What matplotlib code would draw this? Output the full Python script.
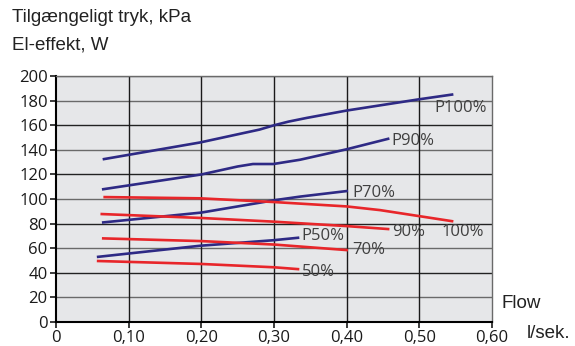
import matplotlib
matplotlib.use("Agg")
import matplotlib.pyplot as plt

# blue curves: available pressure (kPa)
p100_x = [0.066, 0.198, 0.28, 0.30, 0.32, 0.345, 0.40, 0.498, 0.545]
p100_y = [132.5, 146, 156.5, 160, 163, 166, 172, 181, 185]
p90_x = [0.065, 0.20, 0.25, 0.271, 0.299, 0.336, 0.40, 0.457]
p90_y = [108, 120, 126.5, 128.5, 128.5, 132, 140.5, 149]
p70_x = [0.065, 0.20, 0.30, 0.336, 0.40]
p70_y = [81, 89, 99, 102, 106.5]
p50_x = [0.058, 0.198, 0.299, 0.333]
p50_y = [53, 62, 66.5, 68.5]

# red curves: electric power (W)
e100_x = [0.067, 0.198, 0.299, 0.40, 0.446, 0.545]
e100_y = [101.6, 100.6, 97.6, 94, 91, 82]
e90_x = [0.063, 0.20, 0.30, 0.40, 0.457]
e90_y = [87.8, 84.6, 81.6, 78, 75.6]
e70_x = [0.065, 0.20, 0.30, 0.40]
e70_y = [68, 65.8, 63, 58.5]
e50_x = [0.058, 0.20, 0.30, 0.333]
e50_y = [49.6, 47.2, 44.5, 43]

blue_curves = [(p100_x, p100_y, "P100%", 0.52, 174),
               (p90_x, p90_y, "P90%", 0.462, 147),
               (p70_x, p70_y, "P70%", 0.408, 105),
               (p50_x, p50_y, "P50%", 0.338, 70)]
red_curves = [(e100_x, e100_y, "100%", 0.531, 73),
              (e90_x, e90_y, "90%", 0.462, 73),
              (e70_x, e70_y, "70%", 0.408, 58.5),
              (e50_x, e50_y, "50%", 0.338, 40.6)]

xticks = [0, 0.1, 0.2, 0.3, 0.4, 0.5, 0.6]
xtick_labels = ["0", "0,10", "0,20", "0,30", "0,40", "0,50", "0,60"]
yticks = list(range(0, 201, 20))

plt.rcParams['font.family'] = ['Open Sans', 'DejaVu Sans']

fig = plt.figure(figsize=(5.75, 3.46), dpi=100)
ax = fig.add_axes([0.0974, 0.0694, 0.7583, 0.7106])
ax.set_facecolor('#e6e7e9')

for y in yticks[1:]:
    c = '#222222' if y in (40, 80, 120, 160) else '#6a6a6a'
    ax.axhline(y, color=c, lw=1.0, zorder=1)
for x in xticks[1:-1]:
    ax.axvline(x, color='#1a1a1a', lw=1.0, zorder=1)

for xs, ys, lab, lx, ly in blue_curves:
    ax.plot(xs, ys, color='#2e2a85', lw=1.9, zorder=3)
    ax.text(lx, ly, lab, color='#404040', fontsize=12, va='center', ha='left', zorder=4)
for xs, ys, lab, lx, ly in red_curves:
    ax.plot(xs, ys, color='#e8262a', lw=1.9, zorder=3)
    ax.text(lx, ly, lab, color='#404040', fontsize=12, va='center', ha='left', zorder=4)

ax.set_xlim(0, 0.6)
ax.set_ylim(0, 200)
ax.set_xticks(xticks)
ax.set_xticklabels(xtick_labels)
ax.set_yticks(yticks)
ax.tick_params(axis='both', labelsize=12, colors='#1a1a1a', length=4, width=1.2,
               direction='out', pad=2)

for s in ['left', 'bottom']:
    ax.spines[s].set_color('black')
    ax.spines[s].set_linewidth(1.5)
for s in ['top', 'right']:
    ax.spines[s].set_color('#6a6a6a')
    ax.spines[s].set_linewidth(1.0)

tf = ['Liberation Sans']
fig.text(12 / 575, 1 - 17 / 346, "Tilgængeligt tryk, kPa", fontsize=13.5, family=tf, va='center', ha='left', color='#222222')
fig.text(12 / 575, 1 - 45 / 346, "El-effekt, W", fontsize=13.5, family=tf, va='center', ha='left', color='#222222')
fig.text(501 / 575, 1 - 304 / 346, "Flow", fontsize=13.5, family=tf, va='center', ha='left', color='#222222')
fig.text(527 / 575, 1 - 333 / 346, "l/sek.", fontsize=13.5, family=tf, va='center', ha='left', color='#222222')

fig.savefig("out.png", dpi=100)
